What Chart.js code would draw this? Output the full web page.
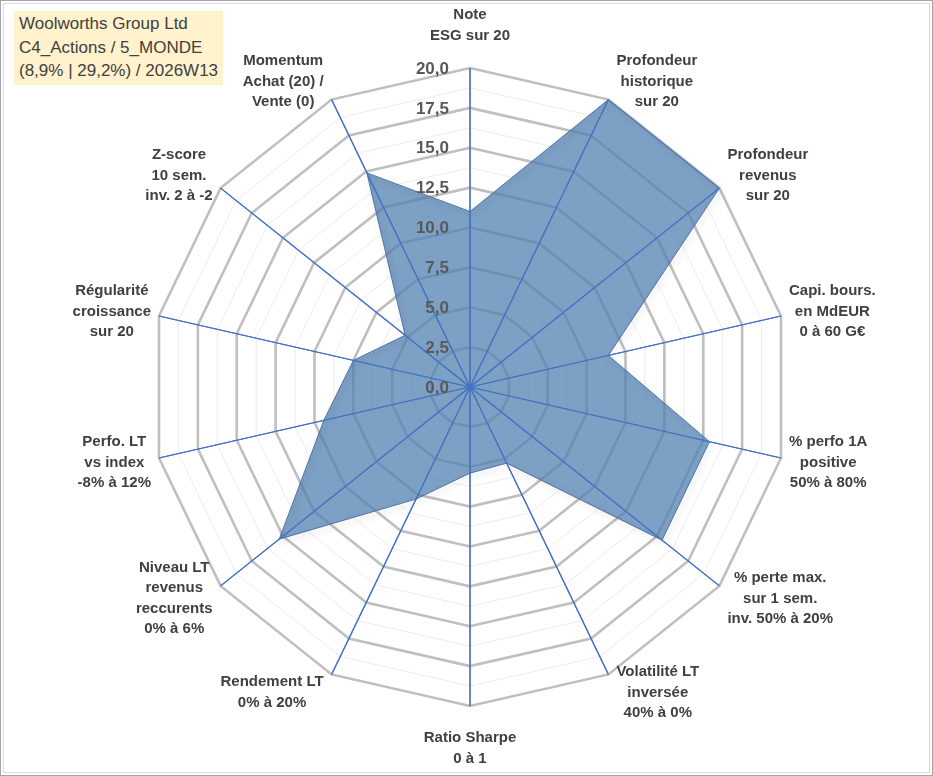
<!DOCTYPE html>
<html lang="fr">
<head>
<meta charset="utf-8">
<title>Woolworths Group Ltd — radar</title>
<script src="https://cdn.jsdelivr.net/npm/chart.js@4.4.1/dist/chart.umd.min.js"></script>
<style>
  html, body { margin: 0; padding: 0; background: #fff; }
  #cadre {
    position: relative; width: 933px; height: 776px; box-sizing: border-box;
    border: 1px solid #a6a6a6; box-shadow: inset 0 0 0 2px #fff, inset 0 0 0 3px #dcdcdc;
    overflow: hidden;
  }
  #radar { position: absolute; left: 0; top: 0; }
  #titre {
    position: absolute; left: 13px; top: 10px; width: 209px; height: 74px;
    box-sizing: border-box; padding: 1px 0 0 5px; background: #fff2cc;
    font: 17px "Liberation Sans", Arial, sans-serif; line-height: 23.5px; color: #404040;
    white-space: nowrap;
  }
</style>
</head>
<body>
<div id="cadre">
  <canvas id="radar" width="933" height="776"></canvas>
  <div id="titre"></div>
</div>
<script>
// ─── Données ──────────────────────────────────────────────────────────────────
const TITRE = ['Woolworths Group Ltd', 'C4_Actions / 5_MONDE', '(8,9% | 29,2%) / 2026W13'];

const AXES = [
  ['Note', 'ESG sur 20'],
  ['Profondeur', 'historique', 'sur 20'],
  ['Profondeur', 'revenus', 'sur 20'],
  ['Capi. bours.', 'en MdEUR', '0 à 60 G€'],
  ['% perfo 1A', 'positive', '50% à 80%'],
  ['% perte max.', 'sur 1 sem.', 'inv. 50% à 20%'],
  ['Volatilité LT', 'inversée', '40% à 0%'],
  ['Ratio Sharpe', '0 à 1'],
  ['Rendement LT', '0% à 20%'],
  ['Niveau LT', 'revenus', 'reccurents', '0% à 6%'],
  ['Perfo. LT', 'vs index', '-8% à 12%'],
  ['Régularité', 'croissance', 'sur 20'],
  ['Z-score', '10 sem.', 'inv. 2 à -2'],
  ['Momentum', 'Achat (20) /', 'Vente (0)'],
];

const NOTES = [11.0, 20.0, 20.0, 8.9, 15.4, 15.4, 5.3, 5.4, 7.8, 15.3, 9.4, 7.5, 5.2, 14.9];

const ECHELLE_MIN = 0;
const ECHELLE_MAX = 20;
const PAS_FIN     = 1.25;   // grille secondaire
const PAS_MAJEUR  = 2.5;    // grille principale + étiquettes

// ─── Styles ───────────────────────────────────────────────────────────────────
const BLEU_AXE   = '#4472c4';
const POLICE     = '"Liberation Sans", Arial, sans-serif';
const TXT_AXE    = '#404040';
const TXT_ECH    = '#595959';

document.getElementById('titre').innerHTML = TITRE.map(t => `<div>${t}</div>`).join('');

const estMajeur = v => Math.abs(v / PAS_MAJEUR - Math.round(v / PAS_MAJEUR)) < 1e-6;
const fmt = v => v.toFixed(1).replace('.', ',');

// Ombre portée sous la surface (comme Excel)
const ombre = {
  id: 'ombre',
  beforeDatasetDraw(chart) {
    const c = chart.ctx;
    c.save();
    c.shadowColor = 'rgba(0,0,0,.30)';
    c.shadowBlur = 6;
    c.shadowOffsetX = 2;
    c.shadowOffsetY = 3;
  },
  afterDatasetDraw(chart) { chart.ctx.restore(); },
};

// Rayons bleus au-dessus de la surface, étiquettes d'échelle et libellés façon Excel
const habillage = {
  id: 'habillage',
  afterDatasetsDraw(chart) {
    const r = chart.scales.r;
    const c = chart.ctx;
    c.save();

    c.strokeStyle = BLEU_AXE;
    c.lineWidth = 1.2;
    AXES.forEach((_, i) => {
      const p = r.getPointPositionForValue(i, r.max);
      c.beginPath();
      c.moveTo(r.xCenter, r.yCenter);
      c.lineTo(p.x, p.y);
      c.stroke();
    });

    // valeurs de l'échelle, à gauche de l'axe vertical
    c.font = `bold 17px ${POLICE}`;
    c.fillStyle = TXT_ECH;
    c.textAlign = 'right';
    c.textBaseline = 'middle';
    r.ticks.forEach(t => {
      if (!estMajeur(t.value)) return;
      const p = r.getPointPositionForValue(0, t.value);
      c.fillText(fmt(t.value), p.x - 21, p.y + 1);
    });

    // libellés des axes
    const LH = 20.5, GAP = 8;
    c.font = `bold 15px ${POLICE}`;
    c.fillStyle = TXT_AXE;
    c.textAlign = 'center';
    AXES.forEach((lignes, i) => {
      const a = r.getIndexAngle(i);
      const s = Math.sin(a), co = Math.cos(a);
      const p = r.getPointPositionForValue(i, r.max);
      const w = Math.max(...lignes.map(l => c.measureText(l).width));
      const h = lignes.length * LH;
      let cx, cy;
      if (Math.abs(s) < 0.01) {
        cx = p.x;
        cy = co > 0 ? p.y - 22 - h / 2 : p.y + 22 + h / 2;
      } else {
        cx = p.x + (s > 0 ? 1 : -1) * (GAP + w / 2);
        cy = p.y - co * 20;
      }
      lignes.forEach((l, k) => c.fillText(l, cx, cy - h / 2 + LH * (k + 0.5)));
    });

    c.restore();
  },
};

new Chart(document.getElementById('radar'), {
  type: 'radar',
  data: {
    labels: AXES.map(l => l.join(' ')),
    datasets: [{
      data: NOTES,
      fill: true,
      backgroundColor: 'rgba(82,128,178,0.75)',
      borderColor: 'rgba(68,106,170,0.9)',
      borderWidth: 1,
      pointRadius: 0,
      pointHoverRadius: 0,
    }],
  },
  options: {
    responsive: false,
    animation: false,
    layout: { padding: { top: 67, bottom: 70, left: 141, right: 135 } },
    plugins: { legend: { display: false }, tooltip: { enabled: false } },
    scales: {
      r: {
        min: ECHELLE_MIN,
        max: ECHELLE_MAX,
        ticks: { stepSize: PAS_FIN, display: false },
        pointLabels: { display: false },
        angleLines: { color: BLEU_AXE, lineWidth: 1.2 },
        grid: {
          circular: false,
          color: ctx => estMajeur(ctx.tick.value) ? '#bfbfbf' : '#ececec',
          lineWidth: ctx => estMajeur(ctx.tick.value) ? 2.6 : 1,
        },
      },
    },
  },
  plugins: [ombre, habillage],
});
</script>
</body>
</html>
